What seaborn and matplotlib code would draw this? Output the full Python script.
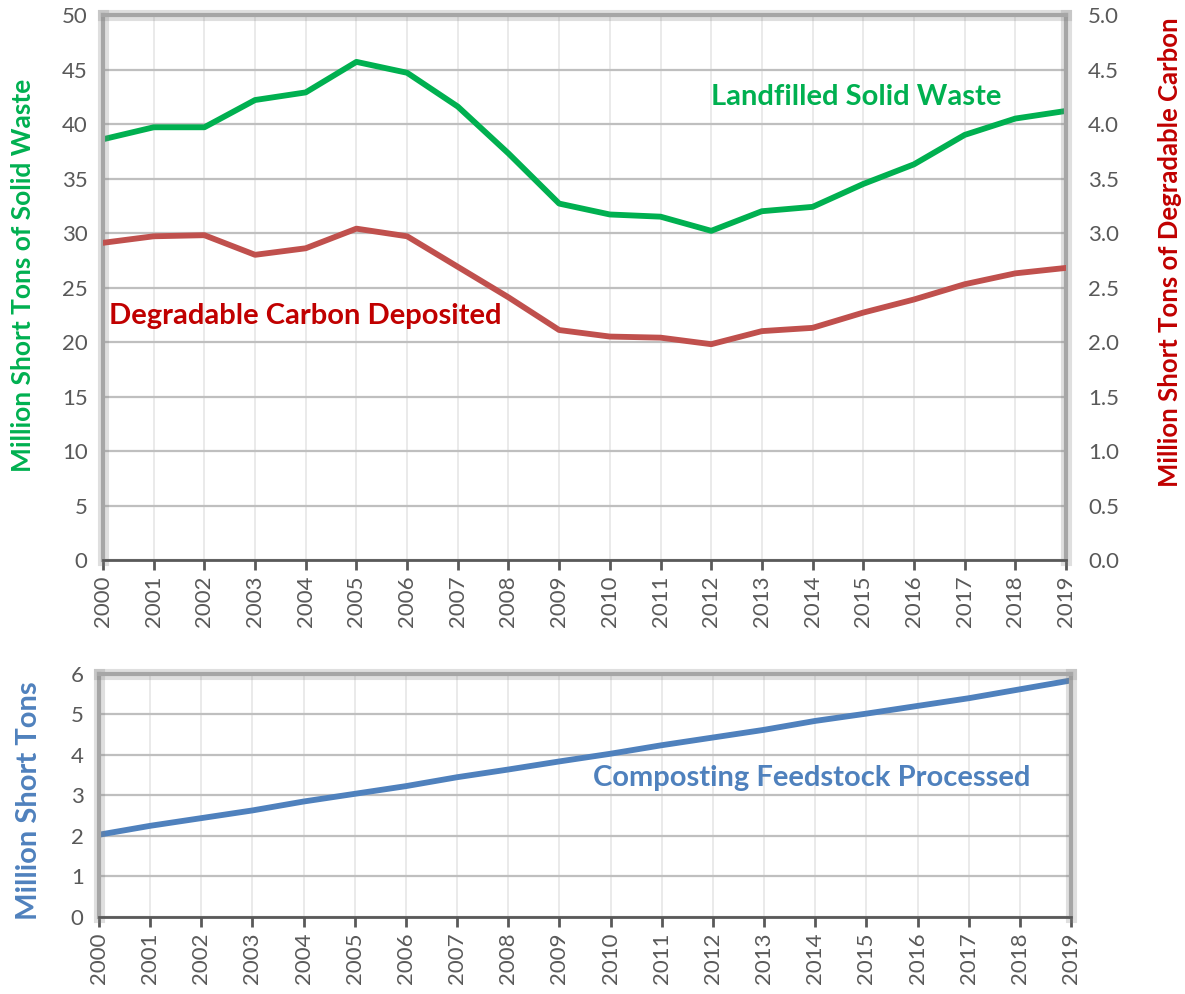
import numpy as np
import pandas as pd
import seaborn as sns
import matplotlib
matplotlib.use("Agg")
import matplotlib.pyplot as plt
import matplotlib.patheffects as pe

years = list(range(2000, 2020))
landfilled = [38.6, 39.7, 39.7, 42.2, 42.9, 45.7, 44.7, 41.6, 37.3, 32.7,
              31.7, 31.5, 30.2, 32.0, 32.4, 34.5, 36.3, 39.0, 40.5, 41.2]
carbon = [2.91, 2.97, 2.98, 2.80, 2.86, 3.04, 2.97, 2.69, 2.41, 2.11,
          2.05, 2.04, 1.98, 2.10, 2.13, 2.27, 2.39, 2.53, 2.63, 2.68]
compost = [2.03, 2.25, 2.44, 2.63, 2.85, 3.04, 3.23, 3.45, 3.64, 3.84,
           4.03, 4.24, 4.43, 4.62, 4.84, 5.02, 5.21, 5.40, 5.62, 5.84]

df = pd.DataFrame({"year": years, "landfilled": landfilled,
                   "carbon": carbon, "compost": compost})

sns.set_theme(style="white")
plt.rcParams['font.family'] = ['Lato', 'DejaVu Sans']

GREEN = "#00B050"
RED_LINE = "#C0504D"
RED_TXT = "#C00000"
BLUE = "#4F81BD"
TICK = "#595959"

fig = plt.figure(figsize=(11.85, 9.94), dpi=100)
ax1 = fig.add_axes([0.0869, 0.4366, 0.8127, 0.5483])
ax3 = fig.add_axes([0.0835, 0.0775, 0.8203, 0.2445])


def style_axes(ax):
    ax.set_xlim(2000, 2019)
    ax.set_xticks(years)
    ax.set_xticklabels([str(y) for y in years], rotation=90)
    ax.grid(axis='y', color="#bfbfbf", linewidth=1.6)
    ax.grid(axis='x', color="#e6e6e6", linewidth=1.2)
    ax.set_axisbelow(True)
    for s in ['left', 'top', 'right']:
        ax.spines[s].set_color("#a6a6a6")
        ax.spines[s].set_linewidth(3)
        ax.spines[s].set_path_effects([pe.SimpleLineShadow(offset=(0, 0), alpha=0.25, linewidth=8, shadow_color="gray"), pe.Normal()])
    ax.spines['bottom'].set_color(TICK)
    ax.spines['bottom'].set_linewidth(2)
    ax.tick_params(axis='x', which='major', direction='out', length=7, width=2,
                   color=TICK, labelcolor=TICK, labelsize=16, pad=4, bottom=True)
    ax.tick_params(axis='y', which='major', length=0, labelcolor=TICK, labelsize=16, pad=11, left=False)
    ax.set_xlabel("")


# Top panel
sns.lineplot(data=df, x="year", y="landfilled", ax=ax1, color=GREEN, linewidth=4.2)
ax1.set_ylim(0, 50)
ax1.set_yticks(np.arange(0, 51, 5))
style_axes(ax1)
ax1.set_ylabel("Million Short Tons of Solid Waste", color=GREEN, fontsize=19,
               fontweight='bold')
ax1.yaxis.set_label_coords(-0.071, 0.523)

ax2 = ax1.twinx()
sns.lineplot(data=df, x="year", y="carbon", ax=ax2, color=RED_LINE, linewidth=4.2)
ax2.set_ylim(0, 5)
ax2.set_yticks(np.arange(0, 5.01, 0.5))
ax2.set_yticklabels([f"{v:.1f}" for v in np.arange(0, 5.01, 0.5)])
ax2.tick_params(axis='y', length=0, labelcolor=TICK, labelsize=16, pad=16, right=False)
for s in ax2.spines.values():
    s.set_visible(False)
ax2.set_ylabel("Million Short Tons of Degradable Carbon", color=RED_TXT, fontsize=18.5,
               fontweight='bold')
ax2.yaxis.set_label_coords(1.095, 0.565)
ax2.grid(False)

ax1.text(2014.86, 42.5, "Landfilled Solid Waste", color=GREEN, fontsize=21,
         fontweight='bold', ha='center', va='center')
ax1.text(2004.0, 22.4, "Degradable Carbon Deposited", color=RED_TXT, fontsize=21,
         fontweight='bold', ha='center', va='center')

# Bottom panel
sns.lineplot(data=df, x="year", y="compost", ax=ax3, color=BLUE, linewidth=4.2)
ax3.set_ylim(0, 6)
ax3.set_yticks(np.arange(0, 7, 1))
style_axes(ax3)
ax3.set_ylabel("Million Short Tons", color=BLUE, fontsize=21, fontweight='bold')
ax3.yaxis.set_label_coords(-0.059, 0.477)
ax3.text(2013.94, 3.43, "Composting Feedstock Processed", color=BLUE, fontsize=21,
         fontweight='bold', ha='center', va='center')

fig.savefig("out.png", dpi=100)
